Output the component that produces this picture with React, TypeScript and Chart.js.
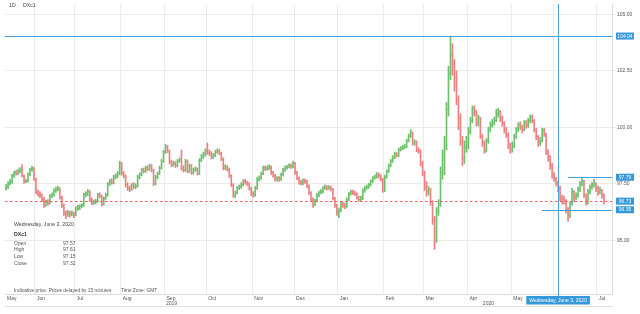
import React, { useEffect, useRef } from 'react';
import { Chart, registerables } from 'chart.js';

Chart.register(...registerables);

// ---------- data ----------
const symbolName = 'DXc1';
const intervalLabel = '1D';
const firstTradingDay = '2019-05-13';
const monthNames = ['Jan', 'Feb', 'Mar', 'Apr', 'May', 'Jun', 'Jul', 'Aug', 'Sep', 'Oct', 'Nov', 'Dec'];
const yTickValues = [95, 97.5, 100, 102.5, 105];
const yearLabels = ['2019', '2020'];
const yearLabelDates = ['2019-09-02', '2020-04-10'];

const openPrices = [
  97.30, 97.35, 97.52, 97.58, 97.85, 98.00, 97.95, 98.05, 98.10, 97.85, 97.60, 97.62, 97.92, 98.12, 98.20,
  97.72, 97.12, 97.02, 97.00, 96.80, 96.55, 96.70, 96.65, 96.95, 97.00, 97.20, 97.25, 97.30, 96.90, 96.55, 96.20, 96.15, 96.20, 96.15, 96.20,
  96.12, 96.40, 96.42, 96.50, 96.55, 97.00, 97.05, 97.15, 96.80, 96.65, 96.70, 96.72, 97.00, 96.95, 96.60, 96.85, 97.00, 97.50, 97.60, 97.55, 97.80, 97.85, 97.95,
  98.40, 97.95, 97.85, 97.45, 97.30, 97.25, 97.45, 97.35, 97.40, 97.80, 97.90, 98.10, 98.05, 98.20, 98.15, 98.30, 98.10, 97.50, 97.80, 97.95, 98.20, 98.50,
  98.90, 99.10, 98.95, 98.45, 98.35, 98.40, 98.30, 98.50, 98.55, 98.20, 98.10, 98.50, 98.05, 98.30, 98.00, 98.10, 98.15, 97.95, 98.55, 98.70, 98.80,
  98.95, 98.90, 98.85, 98.70, 98.75, 98.90, 98.95, 98.85, 98.60, 98.20, 98.25, 98.15, 97.85, 97.45, 97.00, 97.10, 97.30, 97.35, 97.45, 97.60, 97.55, 97.50, 97.30,
  97.05, 97.00, 97.30, 97.70, 97.75, 97.95, 98.20, 98.15, 98.20, 98.25, 98.00, 97.85, 97.70, 97.75, 97.70, 97.90, 98.10, 98.20, 98.25, 98.30, 98.25,
  98.40, 98.00, 97.75, 97.55, 97.52, 97.65, 97.60, 97.40, 97.10, 96.80, 96.60, 96.75, 97.00, 97.10, 97.15, 97.30, 97.35, 97.30, 97.35, 97.25, 96.85, 96.55,
  96.25, 96.30, 96.60, 96.55, 96.50, 96.80, 97.05, 97.15, 97.10, 97.05, 96.90, 96.80, 96.85, 97.20, 97.30, 97.35, 97.45, 97.60, 97.75, 97.80, 97.90, 97.85, 97.70,
  97.20, 97.80, 98.05, 98.30, 98.50, 98.65, 98.80, 98.75, 99.00, 99.05, 99.10, 99.15, 99.40, 99.60, 99.75, 99.30, 99.35, 99.00, 98.95, 98.40,
  98.00, 97.35, 97.15, 97.25, 96.70, 95.90, 95.00, 96.30, 96.60, 98.00, 98.80, 99.20, 100.80, 102.40, 103.20, 102.80, 102.20, 101.20, 100.40, 99.40, 98.60, 99.10,
  99.20, 99.80, 100.30, 100.80, 100.70, 100.20, 100.40, 99.60, 99.30, 99.00, 99.40, 99.90, 100.10, 100.20, 100.30, 100.60, 100.70, 100.40, 100.20, 99.90, 99.70, 99.20,
  99.00, 99.20, 99.60, 99.90, 100.10, 100.00, 99.90, 100.20, 100.10, 100.30, 100.45, 100.30, 99.90, 99.60, 99.30, 99.40, 99.85, 99.70, 98.90, 98.70, 98.30,
  97.90, 97.70, 97.57, 97.32, 96.85, 96.80, 96.75, 96.35, 96.10, 96.60, 97.15, 96.90, 97.00, 97.25, 97.50, 97.60, 97.00, 96.65, 97.15, 97.35, 97.45, 97.50,
  97.30, 97.15, 97.20, 97.00,
];

const highPrices = [
  97.48, 97.60, 97.70, 97.92, 98.05, 98.10, 98.15, 98.22, 98.35, 97.90, 97.70, 97.98, 98.18, 98.28, 98.22,
  97.75, 97.22, 97.15, 97.05, 96.90, 96.78, 96.80, 97.02, 97.10, 97.28, 97.35, 97.40, 97.32, 96.95, 96.60, 96.30, 96.32, 96.28, 96.30, 96.25,
  96.48, 96.55, 96.58, 96.62, 97.08, 97.15, 97.25, 97.20, 96.88, 96.78, 96.82, 97.08, 97.10, 97.00, 96.92, 97.08, 97.55, 97.70, 97.72, 97.88, 97.95, 98.05, 98.50,
  98.45, 98.05, 97.90, 97.55, 97.40, 97.52, 97.55, 97.50, 97.88, 97.98, 98.18, 98.20, 98.28, 98.30, 98.38, 98.35, 98.15, 97.88, 98.02, 98.28, 98.58, 98.98,
  99.25, 99.20, 99.00, 98.55, 98.50, 98.48, 98.58, 98.65, 99.00, 98.30, 98.58, 98.55, 98.38, 98.35, 98.20, 98.25, 98.20, 98.62, 98.80, 98.90, 99.05,
  99.30, 99.00, 98.92, 98.85, 98.98, 99.05, 99.02, 98.90, 98.65, 98.35, 98.30, 98.20, 97.90, 97.50, 97.18, 97.38, 97.45, 97.55, 97.68, 97.70, 97.62, 97.55, 97.35,
  97.15, 97.38, 97.78, 97.85, 98.02, 98.28, 98.28, 98.30, 98.35, 98.30, 98.05, 97.92, 97.82, 97.82, 97.98, 98.18, 98.28, 98.32, 98.38, 98.38, 98.50,
  98.45, 98.05, 97.80, 97.65, 97.72, 97.72, 97.65, 97.45, 97.15, 96.88, 96.82, 97.08, 97.18, 97.25, 97.38, 97.45, 97.42, 97.42, 97.40, 97.30, 96.90, 96.60,
  96.42, 96.68, 96.70, 96.65, 96.88, 97.12, 97.22, 97.22, 97.18, 97.10, 96.95, 96.95, 97.28, 97.38, 97.45, 97.52, 97.68, 97.82, 97.90, 98.00, 97.98, 97.90, 97.75,
  97.88, 98.12, 98.38, 98.58, 98.75, 98.90, 98.88, 99.08, 99.15, 99.20, 99.25, 99.48, 99.70, 99.90, 99.80, 99.45, 99.40, 99.10, 99.00, 98.50,
  98.05, 97.60, 97.40, 97.30, 96.75, 96.05, 96.45, 96.80, 98.25, 99.00, 99.60, 101.10, 102.70, 104.04, 103.70, 103.00, 102.50, 101.40, 100.60, 99.60, 99.40, 99.60,
  100.00, 100.45, 100.95, 100.95, 100.75, 100.55, 100.45, 99.70, 99.40, 99.50, 100.00, 100.25, 100.35, 100.45, 100.80, 100.85, 100.75, 100.50, 100.25, 100.00, 99.75, 99.30,
  99.35, 99.70, 100.00, 100.20, 100.25, 100.10, 100.30, 100.30, 100.40, 100.55, 100.55, 100.35, 99.95, 99.65, 99.55, 99.95, 99.95, 99.75, 99.00, 98.75, 98.40,
  98.00, 97.79, 97.61, 97.40, 97.00, 96.95, 96.80, 96.45, 96.70, 97.30, 97.20, 97.10, 97.35, 97.60, 97.79, 97.65, 97.05, 97.25, 97.45, 97.55, 97.70, 97.55,
  97.40, 97.35, 97.25, 97.05,
];

const lowPrices = [
  97.22, 97.28, 97.45, 97.52, 97.78, 97.88, 97.90, 97.98, 97.80, 97.52, 97.55, 97.58, 97.85, 98.05, 97.65,
  97.05, 96.95, 96.88, 96.70, 96.45, 96.50, 96.55, 96.60, 96.88, 96.95, 97.12, 97.18, 96.82, 96.45, 96.10, 95.95, 96.05, 96.02, 96.08, 96.00,
  96.08, 96.32, 96.35, 96.45, 96.50, 96.92, 96.98, 96.72, 96.58, 96.58, 96.62, 96.68, 96.88, 96.52, 96.55, 96.80, 96.95, 97.42, 97.48, 97.50, 97.72, 97.78, 97.90,
  97.88, 97.75, 97.35, 97.20, 97.15, 97.20, 97.28, 97.28, 97.35, 97.72, 97.85, 97.98, 98.00, 98.08, 98.10, 98.02, 97.42, 97.45, 97.72, 97.90, 98.15, 98.45,
  98.85, 98.88, 98.38, 98.25, 98.28, 98.22, 98.25, 98.45, 98.10, 98.02, 98.05, 97.98, 98.00, 97.92, 97.92, 98.05, 97.88, 97.90, 98.48, 98.62, 98.72,
  98.80, 98.75, 98.60, 98.62, 98.70, 98.85, 98.78, 98.52, 98.12, 98.12, 98.05, 97.78, 97.38, 96.90, 96.88, 97.05, 97.25, 97.30, 97.40, 97.48, 97.42, 97.22, 96.98,
  96.90, 96.95, 97.25, 97.62, 97.70, 97.90, 98.08, 98.10, 98.12, 97.92, 97.78, 97.62, 97.62, 97.60, 97.65, 97.85, 98.05, 98.15, 98.20, 98.18, 98.20,
  97.92, 97.68, 97.48, 97.45, 97.45, 97.52, 97.32, 97.02, 96.72, 96.45, 96.52, 96.70, 96.92, 97.05, 97.10, 97.25, 97.22, 97.25, 97.18, 96.78, 96.45, 96.10,
  96.00, 96.25, 96.45, 96.40, 96.45, 96.75, 97.00, 97.02, 96.98, 96.82, 96.72, 96.72, 96.80, 97.12, 97.25, 97.30, 97.40, 97.55, 97.70, 97.75, 97.75, 97.62, 97.12,
  97.15, 97.75, 98.00, 98.25, 98.45, 98.60, 98.68, 98.70, 98.95, 99.00, 99.05, 99.10, 99.35, 99.55, 99.22, 99.20, 98.92, 98.85, 98.30, 97.85,
  97.20, 96.95, 97.00, 96.55, 95.70, 94.60, 94.90, 96.10, 96.50, 97.70, 97.90, 99.00, 100.50, 102.10, 102.30, 101.60, 101.00, 99.90, 99.20, 98.30, 98.40, 98.90,
  99.05, 99.70, 100.20, 100.50, 100.05, 100.05, 99.50, 99.15, 98.85, 98.90, 99.30, 99.80, 100.00, 100.10, 100.25, 100.45, 100.25, 100.05, 99.75, 99.55, 99.05, 98.85,
  98.90, 99.10, 99.50, 99.80, 99.90, 99.75, 99.85, 99.95, 100.00, 100.20, 100.20, 99.80, 99.45, 99.15, 99.20, 99.35, 99.60, 98.80, 98.50, 98.15, 97.75,
  97.60, 97.40, 97.15, 96.75, 96.60, 96.60, 96.20, 95.85, 96.00, 96.55, 96.70, 96.80, 96.90, 97.15, 97.40, 96.90, 96.55, 96.60, 97.05, 97.25, 97.35, 97.15,
  97.00, 97.05, 96.85, 96.60,
];

const closePrices = [
  97.35, 97.52, 97.58, 97.85, 98.00, 97.95, 98.05, 98.10, 97.85, 97.60, 97.62, 97.92, 98.12, 98.20, 97.72,
  97.12, 97.02, 97.00, 96.80, 96.55, 96.70, 96.65, 96.95, 97.00, 97.20, 97.25, 97.30, 96.90, 96.55, 96.20, 96.15, 96.20, 96.15, 96.20, 96.12,
  96.40, 96.42, 96.50, 96.55, 97.00, 97.05, 97.15, 96.80, 96.65, 96.70, 96.72, 97.00, 96.95, 96.60, 96.85, 97.00, 97.50, 97.60, 97.55, 97.80, 97.85, 97.95, 98.40,
  97.95, 97.85, 97.45, 97.30, 97.25, 97.45, 97.35, 97.40, 97.80, 97.90, 98.10, 98.05, 98.20, 98.15, 98.30, 98.10, 97.50, 97.80, 97.95, 98.20, 98.50, 98.90,
  99.10, 98.95, 98.45, 98.35, 98.40, 98.30, 98.50, 98.55, 98.20, 98.10, 98.50, 98.05, 98.30, 98.00, 98.10, 98.15, 97.95, 98.55, 98.70, 98.80, 98.95,
  98.90, 98.85, 98.70, 98.75, 98.90, 98.95, 98.85, 98.60, 98.20, 98.25, 98.15, 97.85, 97.45, 97.00, 97.10, 97.30, 97.35, 97.45, 97.60, 97.55, 97.50, 97.30, 97.05,
  97.00, 97.30, 97.70, 97.75, 97.95, 98.20, 98.15, 98.20, 98.25, 98.00, 97.85, 97.70, 97.75, 97.70, 97.90, 98.10, 98.20, 98.25, 98.30, 98.25, 98.40,
  98.00, 97.75, 97.55, 97.52, 97.65, 97.60, 97.40, 97.10, 96.80, 96.60, 96.75, 97.00, 97.10, 97.15, 97.30, 97.35, 97.30, 97.35, 97.25, 96.85, 96.55, 96.25,
  96.30, 96.60, 96.55, 96.50, 96.80, 97.05, 97.15, 97.10, 97.05, 96.90, 96.80, 96.85, 97.20, 97.30, 97.35, 97.45, 97.60, 97.75, 97.80, 97.90, 97.85, 97.70, 97.20,
  97.80, 98.05, 98.30, 98.50, 98.65, 98.80, 98.75, 99.00, 99.05, 99.10, 99.15, 99.40, 99.60, 99.75, 99.30, 99.35, 99.00, 98.95, 98.40, 98.00,
  97.35, 97.15, 97.25, 96.70, 95.90, 95.00, 96.30, 96.60, 98.00, 98.80, 99.20, 100.80, 102.40, 103.20, 102.80, 102.20, 101.20, 100.40, 99.40, 98.60, 99.10, 99.20,
  99.80, 100.30, 100.80, 100.70, 100.20, 100.40, 99.60, 99.30, 99.00, 99.40, 99.90, 100.10, 100.20, 100.30, 100.60, 100.70, 100.40, 100.20, 99.90, 99.70, 99.20, 99.00,
  99.20, 99.60, 99.90, 100.10, 100.00, 99.90, 100.20, 100.10, 100.30, 100.45, 100.30, 99.90, 99.60, 99.30, 99.40, 99.85, 99.70, 98.90, 98.70, 98.30, 97.90,
  97.70, 97.55, 97.32, 96.85, 96.80, 96.75, 96.35, 96.10, 96.60, 97.15, 96.90, 97.00, 97.25, 97.50, 97.60, 97.00, 96.65, 97.15, 97.35, 97.45, 97.50, 97.30,
  97.15, 97.20, 97.00, 96.73,
];

// drawn horizontal levels (value, first date; null = whole width)
const levelValues = [104.04, 97.79, 96.35];
const levelStartDates: (string | null)[] = [null, '2020-06-10', '2020-05-22'];
const crosshairDate = '2020-06-03';
const crosshairLabel = 'Wednesday, June 3, 2020';
const footnote = 'Indicative price. Prices delayed by 15 minutes';
const timeZoneNote = 'Time Zone: GMT';

// ---------- styles ----------
const FONT = '"Liberation Sans", Arial, sans-serif';
const UP = 'rgb(108,192,108)';
const DOWN = 'rgb(236,128,128)';
const BLUE = 'rgb(52,152,219)';
const LEVEL = 'rgb(70,160,222)';
const GRID = '#ebebeb';
const TEXT = '#555';

function tradingDays(start: string, n: number): string[] {
  const out: string[] = [];
  const d = new Date(start + 'T00:00:00Z');
  while (out.length < n) {
    const wd = d.getUTCDay();
    if (wd !== 0 && wd !== 6) out.push(d.toISOString().slice(0, 10));
    d.setUTCDate(d.getUTCDate() + 1);
  }
  return out;
}

export default function App() {
  const ref = useRef<HTMLCanvasElement | null>(null);

  useEffect(() => {
    const canvas = ref.current;
    if (!canvas) return;
    const n = closePrices.length;
    const dates = tradingDays(firstTradingDay, n);
    const idxOf = (d: string) => dates.indexOf(d);
    const xMin = -0.55;
    const xMax = 304.05;

    const monthTicks: { value: number; label: string }[] = [
      { value: xMin, label: monthNames[Number(dates[0].slice(5, 7)) - 1] },
    ];
    for (let i = 1; i < n; i++) {
      if (dates[i].slice(5, 7) !== dates[i - 1].slice(5, 7)) {
        monthTicks.push({ value: i - 0.5, label: monthNames[Number(dates[i].slice(5, 7)) - 1] });
      }
    }
    const colors = closePrices.map((c, i) => (c >= openPrices[i] ? UP : DOWN));
    const crossIdx = idxOf(crosshairDate);
    const lastClose = closePrices[n - 1];

    const ohlcTicks = {
      id: 'ohlcTicks',
      afterDatasetsDraw(chart: any) {
        const { ctx, chartArea, scales } = chart;
        const x = scales.x, y = scales.y;
        ctx.save();
        ctx.beginPath();
        ctx.rect(chartArea.left, chartArea.top, chartArea.right - chartArea.left, chartArea.bottom - chartArea.top);
        ctx.clip();
        ctx.lineWidth = 1;
        for (let i = 0; i < n; i++) {
          const px = x.getPixelForValue(i);
          const yo = y.getPixelForValue(openPrices[i]);
          const yc = y.getPixelForValue(closePrices[i]);
          ctx.strokeStyle = colors[i];
          ctx.beginPath();
          ctx.moveTo(px - 1, yo);
          ctx.lineTo(px, yo);
          ctx.moveTo(px, yc);
          ctx.lineTo(px + 1, yc);
          ctx.stroke();
        }
        // levels
        ctx.strokeStyle = LEVEL;
        ctx.lineWidth = 1;
        levelValues.forEach((v, k) => {
          const sd = levelStartDates[k];
          const x0 = sd ? x.getPixelForValue(idxOf(sd)) : chartArea.left;
          const py = Math.round(y.getPixelForValue(v)) + 0.5;
          ctx.beginPath();
          ctx.moveTo(x0, py);
          ctx.lineTo(chartArea.right, py);
          ctx.stroke();
        });
        // last price dashed
        ctx.strokeStyle = 'rgb(232,96,96)';
        ctx.setLineDash([2.5, 2.5]);
        const ly = Math.round(y.getPixelForValue(lastClose)) + 0.5;
        ctx.beginPath();
        ctx.moveTo(chartArea.left, ly);
        ctx.lineTo(chartArea.right, ly);
        ctx.stroke();
        ctx.setLineDash([]);
        ctx.restore();
        // crosshair
        ctx.save();
        ctx.strokeStyle = LEVEL;
        ctx.lineWidth = 1;
        const cx = Math.round(x.getPixelForValue(crossIdx)) + 0.5;
        ctx.beginPath();
        ctx.moveTo(cx, chartArea.top);
        ctx.lineTo(cx, chartArea.bottom + 2);
        ctx.stroke();
        ctx.restore();
      },
      afterDraw(chart: any) {
        const { ctx, chartArea, scales } = chart;
        const x = scales.x, y = scales.y;
        ctx.save();
        // price boxes on the right axis
        ctx.font = `5px ${FONT}`;
        ctx.textBaseline = 'middle';
        const boxes = [...levelValues, lastClose];
        boxes.forEach((v) => {
          const py = y.getPixelForValue(v);
          ctx.fillStyle = BLUE;
          ctx.fillRect(chartArea.right + 4, py - 3.5, 18, 7);
          ctx.fillStyle = '#fff';
          ctx.textAlign = 'center';
          ctx.fillText(v.toFixed(2), chartArea.right + 13, py + 0.3);
        });
        // crosshair date box
        const cx = x.getPixelForValue(crossIdx);
        const tw = ctx.measureText(crosshairLabel).width + 6;
        ctx.fillStyle = BLUE;
        ctx.fillRect(cx - tw / 2, chartArea.bottom + 2, tw, 8.5);
        ctx.fillStyle = '#fff';
        ctx.textAlign = 'center';
        ctx.fillText(crosshairLabel, cx, chartArea.bottom + 6.4);

        // year labels
        ctx.fillStyle = TEXT;
        ctx.textAlign = 'left';
        yearLabels.forEach((t, k) => {
          const px = x.getPixelForValue(idxOf(yearLabelDates[k]) - 0.5) + 1.5;
          ctx.fillText(t, px, chartArea.bottom + 10);
        });
        // bottom rule
        ctx.strokeStyle = '#e2e2e2';
        ctx.beginPath();
        ctx.moveTo(chartArea.left, 306.5);
        ctx.lineTo(chartArea.right + 1, 306.5);
        ctx.stroke();

        // header
        ctx.font = `5.2px ${FONT}`;
        ctx.fillStyle = '#444';
        ctx.fillText(intervalLabel, 9, 6);
        ctx.fillText(symbolName, 23, 6);

        // info box
        const c = crossIdx;
        ctx.fillStyle = '#444';
        ctx.fillText(crosshairLabel, 14, 225);
        ctx.font = `bold 5.2px ${FONT}`;
        ctx.fillStyle = '#333';
        ctx.fillText(symbolName, 14, 235);
        ctx.font = `5px ${FONT}`;
        ctx.fillStyle = TEXT;
        const rows: [string, number][] = [
          ['Open', openPrices[c]],
          ['High', highPrices[c]],
          ['Low', lowPrices[c]],
          ['Close', closePrices[c]],
        ];
        rows.forEach(([k, v], r) => {
          const ry = 243.3 + r * 6.7;
          ctx.fillText(k, 14, ry);
          ctx.fillText(v.toFixed(2), 63, ry);
        });
        ctx.font = `4.8px ${FONT}`;
        ctx.fillText(footnote, 14, 290.5);
        ctx.fillText(timeZoneNote, 121, 290.5);
        ctx.restore();
      },
    };

    const chart = new Chart(canvas, {
      type: 'bar',
      data: {
        datasets: [
          {
            data: closePrices.map((_, i) => ({ x: i, y: [lowPrices[i], highPrices[i]] })) as any,
            backgroundColor: colors,
            borderWidth: 0,
            barThickness: 1,
          } as any,
        ],
      },
      options: {
        animation: false,
        responsive: false,
        maintainAspectRatio: false,
        layout: { padding: { left: 5, top: 0, right: 0, bottom: 0 } },
        plugins: { legend: { display: false }, tooltip: { enabled: false } },
        events: [],
        scales: {
          x: {
            type: 'linear',
            min: xMin,
            max: xMax,
            offset: false,
            afterBuildTicks: (s: any) => {
              s.ticks = monthTicks.map((t) => ({ value: t.value }));
            },
            afterFit: (s: any) => {
              s.height = 20;
              s.paddingLeft = 0;
              s.paddingRight = 0;
            },
            grid: {
              offset: false,
              drawTicks: false,
              color: (ctx: any) => (ctx.index === 0 ? 'rgba(0,0,0,0)' : GRID),
            },
            border: { display: true, color: '#dcdcdc' },
            ticks: {
              autoSkip: false,
              maxRotation: 0,
              minRotation: 0,
              align: 'start',
              labelOffset: 2,
              padding: 1.5,
              color: TEXT,
              font: { size: 5, family: FONT },
              callback: (_v: any, i: number) => monthTicks[i]?.label ?? '',
            },
          } as any,
          y: {
            position: 'right',
            min: 92.62,
            max: 105.46,
            afterBuildTicks: (s: any) => {
              s.ticks = yTickValues.map((v) => ({ value: v }));
            },
            afterFit: (s: any) => {
              s.width = 28;
            },
            grid: { color: GRID, drawTicks: true, tickLength: 4 },
            border: { display: true, color: '#dcdcdc' },
            ticks: {
              padding: 1,
              color: TEXT,
              font: { size: 5, family: FONT },
              callback: (v: any) => Number(v).toFixed(2),
            },
          } as any,
        },
      },
      plugins: [ohlcTicks],
    });
    return () => chart.destroy();
  }, []);

  return (
    <div style={{ position: 'fixed', left: 0, top: 0, width: 640, height: 314, background: '#fff' }}>
      <canvas ref={ref} width={640} height={314} style={{ display: 'block', width: 640, height: 314 }} />
    </div>
  );
}
